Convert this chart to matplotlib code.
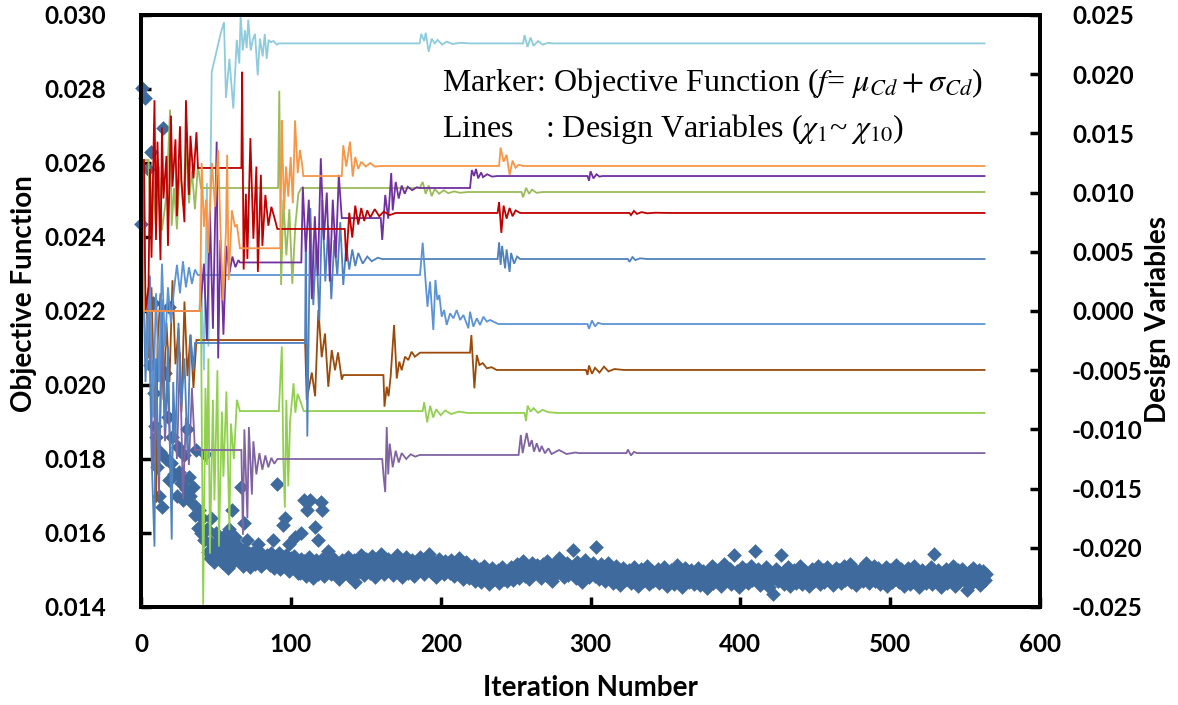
import matplotlib
matplotlib.use("Agg")
import matplotlib.pyplot as plt
import numpy as np

plt.rcParams['mathtext.fontset'] = 'stix'
plt.rcParams['font.family'] = ['Lato', 'DejaVu Sans']

# ---------------- data ----------------
# Objective function (units of 1e-5), scattered early evaluations (iteration, value)
obj_early = [(0,2435),(1,2803),(2.5,2775),(5,2585),(7,2630),(14.7,2695),(8,2222),(19,2210),(6,2054),
             (16,2032),(9,1978),(9.5,1890),(18,1913),(21,1860),(25,1832),(31,1880),(37,1824),(43,1814),
             (11,1779),(25.5,1765),(18.5,1743),(35,1724),(67,1724),(91,1732),(109,1689),(14,1670),
             (12,1700),(26,1750),(30,1720),(39,1662),(38,1613),(47,1640),(54,1522),(61,1662),(61.5,1580),
             (69,1627),(74,1546),(85,1535),(94,1508),(96,1640),(94.5,1622),(103,1589),(105,1492),
             (111,1662),(116,1616),(121,1662),(125,1550),(143,1468),(120,1685),(113,1690),(10,1860),
             (13,1820),(17,1800),(20,1790),(22,1760),(24,1700),(27,1735),(28,1690),(29,1810),(32,1750),
             (33,1700),(34,1680),(36,1650),(40,1600),(41,1640),(42,1580),(44,1610),(46,1575),(48,1560),
             (50,1600),(52,1580),(55,1590),(57,1570),(59,1610),(63,1590),(65,1565),(71,1580),(78,1570),
             (88,1580),(99,1570),(107,1600),(118,1580)]

# Objective function (units of 1e-5) for iterations 45 .. 564
obj_band_start = 45
obj_band = [
 1548,1532,1556,1541,1522,1553,1537,1560,1528,1545,1519,1551,1538,1506,1547,1530,1557,1524,1543,1535,
 1549,1527,1539,1512,1553,1534,1520,1546,1508,1531,1542,1517,1550,1526,1538,1511,1544,1529,1521,1540,
 1533,1514,1547,1525,1506,1538,1519,1545,1502,1529,1536,1510,1541,1523,1498,1532,1515,1539,1507,1527,
 1518,1493,1530,1506,1524,1485,1512,1535,1497,1520,1478,1509,1528,1490,1515,1502,1531,1484,1511,1496,
 1522,1505,1488,1517,1530,1495,1512,1476,1508,1526,1491,1514,1499,1535,1483,1510,1503,1527,1487,1516,
 1525,1498,1540,1511,1486,1529,1504,1518,1493,1537,1509,1482,1521,1514,1496,1544,1507,1490,1523,1512,
 1531,1500,1518,1487,1526,1509,1541,1495,1513,1480,1522,1505,1536,1492,1517,1503,1528,1484,1511,1520,
 1498,1534,1506,1519,1489,1527,1501,1542,1514,1493,1523,1508,1481,1516,1530,1497,1511,1488,1525,1504,
 1519,1491,1528,1506,1483,1515,1499,1532,1487,1510,1476,1502,1521,1494,1479,1508,1489,1514,1471,1497,
 1485,1503,1468,1492,1510,1477,1496,1462,1488,1505,1473,1494,1480,1499,1466,1486,1507,1475,1491,1470,
 1495,1481,1508,1472,1500,1487,1516,1478,1503,1490,1523,1484,1511,1497,1476,1506,1520,1489,1501,1514,
 1492,1509,1479,1517,1503,1486,1525,1498,1511,1470,1504,1519,1488,1507,1532,1494,1513,1482,1500,1518,
 1487,1512,1496,1554,1505,1478,1521,1493,1510,1468,1502,1527,1489,1514,1480,1507,1497,1518,1484,1562,
 1501,1475,1515,1492,1508,1471,1497,1520,1486,1504,1466,1493,1511,1479,1499,1460,1490,1506,1474,1496,
 1483,1501,1465,1488,1509,1472,1494,1456,1485,1503,1469,1491,1477,1512,1462,1487,1498,1470,1492,1480,
 1503,1466,1489,1475,1508,1482,1458,1495,1471,1500,1486,1463,1492,1513,1478,1497,1455,1484,1506,1473,
 1490,1468,1499,1481,1461,1494,1476,1505,1459,1487,1498,1470,1483,1452,1496,1479,1510,1464,1488,1501,
 1474,1493,1457,1485,1515,1469,1491,1480,1503,1462,1487,1540,1476,1497,1455,1489,1508,1471,1482,1499,
 1466,1488,1511,1474,1495,1551,1479,1502,1460,1486,1498,1468,1507,1483,1454,1492,1476,1436,1489,1504,
 1470,1495,1541,1482,1463,1499,1477,1508,1458,1487,1472,1501,1466,1493,1480,1510,1461,1485,1497,1474,
 1490,1456,1483,1503,1469,1494,1478,1512,1462,1488,1500,1467,1485,1508,1473,1496,1481,1459,1491,1505,
 1477,1499,1464,1486,1510,1472,1493,1481,1515,1468,1489,1502,1460,1484,1497,1475,1506,1470,1492,1518,
 1483,1465,1498,1479,1511,1471,1490,1505,1462,1487,1496,1474,1509,1458,1485,1500,1468,1493,1477,1514,
 1488,1467,1502,1480,1457,1495,1473,1506,1462,1490,1484,1512,1469,1497,1453,1482,1501,1475,1491,1466,
 1494,1478,1508,1461,1542,1486,1470,1499,1483,1455,1492,1476,1504,1465,1489,1497,1472,1510,1458,1485,
 1499,1468,1487,1503,1474,1492,1446,1481,1496,1463,1506,1477,1490,1470,1501,1459,1486,1497,1473,1489]

# Design variables (iteration, value in units of 1e-3)
dv_skyblue = [(0,12.75),(2,0.0),(39,0.0),(40,4.0),(42,-5.0),(44,10.8),(45,-3.0),(47.2,20.2),(53.2,23.45),
    (55.4,24.4),(56.7,18.0),(59,21.3),(61.6,17.1),(63.9,22.9),(65.6,20.9),(66.5,25.0),(67.9,22.0),
    (69.4,23.7),(70.5,22.2),(71.6,24.6),(73.2,22.0),(74.6,22.9),(76.1,23.4),(77.9,19.9),(79.4,23.0),
    (81.2,21.5),(82.6,23.4),(83.9,21.3),(85.2,22.9),(86.6,22.7),(88.4,22.8),(90.6,22.5),(92,22.6),
    (186,22.6),(187,23.4),(189,22.8),(190,23.5),(192,21.9),(194,23.0),(196,22.6),(198,22.9),(201,22.5),
    (204,22.75),(208,22.55),(213,22.65),(220,22.6),(255,22.6),(256,23.3),(258,22.3),(260,23.1),
    (262,22.4),(265,22.8),(268,22.5),(272,22.65),(275,22.6),(563,22.6)]
dv_brown = [(0,0.0),(4,0.0),(5,-4.0),(7,2.0),(9,-8.0),(10,-16.2),(11,-3.0),(13,1.5),(15,-7.5),(17,-1.0),
    (19,-6.0),(21,2.6),(23,-4.5),(25,-1.5),(27,-8.5),(29,0.8),(31,-5.5),(33,-2.0),(35,-6.5),(37,-2.45),
    (109.5,-2.45),(110.6,-7.5),(114,-5.2),(116.2,-7.2),(118.4,0.1),(120.6,-3.9),(122.8,-1.9),(125,-6.4),
    (127.3,-3.3),(129.5,-5.0),(131.5,-3.5),(134,-5.8),(135,-5.41),(161.8,-5.41),(162.5,-8.08),(164,-6.4),
    (165.2,-7.2),(166.6,-5.55),(168.9,-1.18),(170.7,-5.7),(172.4,-4.28),(174,-5.0),(176.2,-3.86),
    (178.4,-4.14),(180.6,-3.44),(182.8,-3.86),(186.2,-3.52),(219.6,-3.52),(220.5,-2.03),(222.5,-6.53),
    (224.1,-3.72),(225.9,-4.56),(228.1,-4.4),(230.8,-4.84),(234,-4.75),(237.3,-4.98),(297,-4.98),
    (298,-5.4),(299,-4.6),(301,-5.3),(303,-4.8),(306,-5.2),(309,-4.7),(312,-5.1),(316,-4.9),(322,-4.98),
    (563,-4.98)]
dv_green = [(0,12.75),(2,12.75),(3,0.0),(40,0.0),(41.5,-24.8),(43,-6.5),(44,-13.0),(45,-4.0),(46,-20.5),
    (48,-7.5),(49,-16.0),(51,-5.0),(52,-19.9),(54,-8.5),(55,-14.0),(57,-6.8),(59,-18.5),(60,-9.5),
    (62,-12.5),(64,-7.5),(66,-8.45),(92,-8.45),(94,-3.0),(95,-12.6),(96,-16.6),(97,-7.5),(98.3,-14.8),
    (99.5,-9.3),(101.8,-6.1),(103,-8.6),(104.5,-7.0),(106,-7.5),(108.6,-8.45),(188,-8.45),(189,-7.7),
    (191,-9.4),(193,-8.0),(195,-9.0),(197,-8.3),(200,-8.8),(203,-8.4),(207,-8.7),(212,-8.5),(218,-8.61),
    (256,-8.61),(257,-9.3),(258,-8.0),(260,-8.5),(262,-8.2),(265,-8.6),(268,-8.35),(272,-8.55),
    (278,-8.61),(563,-8.61)]
dv_lilac = [(0,0.0),(5,0.0),(6,-3.0),(8,-13.5),(10,-6.0),(12,-15.5),(14,-2.0),(16,-11.0),(18,-5.5),
    (20,-14.8),(22,-8.0),(24,-12.5),(26,-3.5),(28,-15.9),(30,-9.0),(32,-13.0),(34,-6.5),(36,-11.74),
    (67,-11.74),(68,-18.9),(69,-10.0),(71,-17.5),(72,-9.8),(74,-15.5),(75,-11.0),(77,-13.8),(79,-12.0),
    (81,-13.4),(83,-12.2),(85,-13.2),(87,-12.4),(89,-12.9),(91,-12.5),(161,-12.5),(162,-14.1),
    (163,-15.3),(164,-9.8),(165,-13.8),(166,-11.2),(168,-13.2),(170,-11.8),(172,-12.8),(174,-12.0),
    (177,-12.5),(180,-12.1),(183,-12.3),(186,-12.16),(252,-12.16),(253.5,-10.47),(254.7,-12.0),
    (257.4,-10.3),(259.2,-11.46),(260.8,-10.9),(262.3,-11.88),(264.1,-11.17),(266,-11.9),(267.4,-11.4),
    (269.6,-12.02),(271.9,-11.6),(274,-12.08),(279,-11.74),(284,-12.08),(290,-11.95),(292,-12.0),
    (324,-12.0),(325,-11.7),(327,-12.2),(329,-11.9),(331,-12.0),(563,-12.0)]
dv_blue = [(0,0.0),(2,0.0),(3,-6.0),(5,2.0),(7,-12.0),(9,-19.9),(10,-4.0),(12,-14.0),(14,1.0),(16,-10.0),
    (18,-3.0),(20.5,-19.3),(21.5,-6.0),(23,-11.0),(25,-1.0),(27,-8.0),(29,-4.0),(31,-12.0),(33,-2.0),
    (35,-5.0),(36,-2.7),(109.5,-2.7),(110,6.5),(111,-10.6),(113,8.7),(115,0.5),(117,5.8),(119,-0.8),
    (121,9.4),(123,2.5),(125,7.2),(127,1.0),(129,6.0),(131,3.0),(133,7.5),(135,2.2),(137,5.5),(139,3.5),
    (141,5.2),(143,3.8),(145,4.9),(148,4.0),(151,4.6),(154,4.2),(158,4.5),(161,4.39),(238,4.39),
    (239,5.8),(240,3.9),(241,5.5),(243,3.6),(244,5.2),(246,3.3),(247,4.9),(249,4.0),(251,4.6),
    (253,4.39),(325,4.39),(326,4.15),(328,4.55),(330,4.3),(333,4.45),(338,4.39),(563,4.39)]
dv_blue2 = [(0,12.75),(1,12.75),(2,0.0),(4,-5.0),(6,3.0),(8,-9.0),(10,1.5),(12,-6.0),(14,4.0),(16,-3.0),
    (18,2.0),(20,-1.0),(22,1.8),(24,3.9),(26,1.5),(28,4.2),(30,2.0),(32,3.7),(34,2.3),(36,3.5),
    (38,3.04),(186.2,3.04),(188,5.77),(191.2,0.36),(192.9,2.48),(195.1,-1.6),(196.5,2.62),(197.8,0.93),
    (199.1,1.35),(200.7,-0.48),(202.3,0.08),(204,-1.18),(206.3,-0.2),(208.5,-0.62),(210.7,0.08),
    (213,-0.76),(215.2,-0.34),(218.5,-1.46),(219.6,-0.06),(221.8,-1.32),(224.1,-0.62),(226.3,-1.18),
    (228.5,-0.48),(230.8,-0.9),(233,-0.76),(238.5,-1.1),(298,-1.1),(299,-1.5),(301,-0.8),(303,-1.3),
    (305,-1.0),(308,-1.1),(563,-1.1)]
dv_olive = [(0,12.75),(5,12.75),(6,8.0),(8,11.0),(10,7.0),(12,12.2),(14,6.8),(17,9.8),(19.4,17.0),
    (20.5,7.2),(22,10.4),(24,6.9),(26,12.5),(28,8.9),(30,14.0),(32,9.1),(34,11.8),(36,8.6),(38,12.3),
    (40,10.39),(91.5,10.39),(92.3,18.6),(93.5,2.2),(95,9.4),(97,4.7),(99,8.6),(101,2.3),(103,7.2),
    (105,9.9),(107,10.39),(186,10.39),(188,10.9),(190,9.9),(192,10.6),(194,9.7),(196,10.3),(199,9.9),
    (202,10.2),(205,9.95),(209,10.1),(213,9.98),(218,10.05),(254,10.05),(255,9.6),(257,10.4),
    (259,9.9),(261,10.25),(264,9.98),(268,10.05),(563,10.05)]
dv_purple = [(0,0.0),(39.5,0.0),(42,4.0),(44,-2.5),(46,8.5),(48,-1.5),(50.5,14.3),(51.5,-4.0),(53,6.0),
    (55,-2.0),(57,5.5),(59,3.2),(61,4.6),(63,3.7),(65,4.3),(66,4.1),(107,4.1),(108,10.5),(110,5.0),
    (112,9.4),(114,1.0),(116,8.0),(118,3.0),(120,12.9),(122,6.0),(124,10.0),(126,2.5),(128,9.4),
    (130,4.5),(132,11.5),(134,7.85),(160,7.85),(161,6.0),(163,9.8),(165,7.8),(167,11.66),(168,8.5),
    (170,10.9),(172,9.5),(174,10.6),(176,9.9),(178,10.5),(181,10.2),(184,10.45),(186,10.39),
    (219.6,10.39),(220.8,11.9),(222.3,11.4),(223.6,12.0),(225,11.2),(227,11.7),(228.3,11.3),
    (231,11.55),(234.3,11.35),(237.6,11.4),(298,11.4),(299,11.0),(300,11.8),(302,11.2),(304,11.55),
    (306,11.35),(308,11.4),(563,11.4)]
dv_red = [(0,12.75),(2,12.75),(3,0.0),(5,2.0),(6,12.0),(7,4.5),(9,17.8),(10,6.0),(11,14.3),(13,4.3),
    (14,15.5),(15,9.5),(17,13.1),(18,5.5),(20,16.5),(21,10.5),(23,14.5),(24,8.0),(26,15.6),(27,11.0),
    (29,7.5),(30,17.8),(32,9.8),(33,14.8),(35,11.2),(37,15.1),(38,12.08),(67,12.08),(67.5,20.2),
    (68.5,3.5),(70,9.9),(71,4.4),(73,14.6),(75,6.1),(77,12.2),(78,3.3),(80,11.5),(81,5.5),(83,9.8),
    (85,7.2),(87,8.8),(89,7.9),(91,6.93),(136,6.93),(137,4.2),(139,8.3),(141,6.2),(143,8.9),(145,7.3),
    (147,8.7),(149,7.6),(151,8.5),(153,7.9),(156,8.6),(159,8.0),(162,8.4),(166,8.1),(170,8.28),
    (238,8.28),(239,9.2),(240.5,6.6),(242,8.9),(244,7.8),(246,8.7),(248,8.0),(250,8.5),(253,8.28),
    (326,8.28),(327,8.1),(329,8.45),(331,8.2),(334,8.35),(338,8.25),(343,8.3),(353,8.28),(563,8.28)]
dv_orange = [(0,12.75),(2,0.0),(39.5,0.0),(40.5,12.5),(42,7.1),(43.4,9.4),(44.7,4.9),(47.4,12.5),
    (49.4,8.8),(51.4,13.6),(53.4,5.4),(54.7,0.9),(56.7,6.8),(57.5,13.2),(58.5,2.6),(60.7,8.5),
    (62.7,7.1),(64,7.3),(66,5.3),(93,5.3),(93.9,16.1),(94.5,13.3),(95.5,8.5),(96.8,12.2),(98.3,9.65),
    (99.9,13.0),(101.3,9.1),(102.8,16.1),(104.6,11.65),(106.1,13.6),(107.7,12.2),(108.3,11.4),
    (134,11.4),(135,14.0),(137,12.2),(139.5,14.3),(141.3,11.35),(143,13.0),(145,12.0),(147,12.6),
    (150,12.2),(153,12.5),(156,12.2),(160,12.25),(239,12.25),(240,13.8),(242,12.6),(244,13.2),
    (246,11.5),(248,12.7),(250,12.1),(252,12.35),(255,12.25),(563,12.25)]

design_vars = [
    (dv_skyblue, '#8DCBDD'), (dv_brown, '#9C4A0A'), (dv_green, '#92D050'),
    (dv_lilac, '#8064A2'), (dv_blue, '#4F81BD'), (dv_blue2, '#5B93D6'),
    (dv_olive, '#9BBB59'), (dv_purple, '#7030A0'), (dv_red, '#C00000'),
    (dv_orange, '#F79646')]

x_ticks = [0, 100, 200, 300, 400, 500, 600]
y_left_ticks = [0.014, 0.016, 0.018, 0.020, 0.022, 0.024, 0.026, 0.028, 0.030]
y_right_ticks = [-0.025, -0.020, -0.015, -0.010, -0.005, 0.000, 0.005, 0.010, 0.015, 0.020, 0.025]

# ---------------- plot ----------------
W, H = 1178, 705
fig = plt.figure(figsize=(W / 100, H / 100), dpi=100)
ax = fig.add_axes([141 / W, 1 - 607 / H, (1040 - 141) / W, (607 - 15) / H])
ax2 = ax.twinx()

ax.set_xlim(0, 600)
ax.set_ylim(0.014, 0.030)
ax2.set_ylim(-0.025, 0.025)

# scatter of objective function
ex = [p[0] for p in obj_early]
ey = [p[1] * 1e-5 for p in obj_early]
bx = np.arange(obj_band_start, obj_band_start + len(obj_band))
by = np.array(obj_band) * 1e-5
mcol = '#3F6A9E'
ax.scatter(bx, by, marker='D', s=56, color=mcol, linewidths=0, zorder=3, clip_on=False)
ax.scatter(ex, ey, marker='D', s=56, color=mcol, linewidths=0, zorder=3, clip_on=False)

for data, col in design_vars:
    xs = [p[0] for p in data]
    ys = [p[1] * 1e-3 for p in data]
    ax2.plot(xs, ys, color=col, lw=1.3, solid_joinstyle='miter')

tick_font = dict(family='Lato', weight='bold', size=17.5)
ax.set_xticks(x_ticks)
ax.set_xticklabels([str(t) for t in x_ticks], **tick_font)
ax.set_yticks(y_left_ticks)
ax.set_yticklabels(['%.3f' % t for t in y_left_ticks], **tick_font)
ax2.set_yticks(y_right_ticks)
ax2.set_yticklabels(['%.3f' % t for t in y_right_ticks], **tick_font)

ax.tick_params(axis='both', direction='in', length=7, width=2.5)
ax.tick_params(axis='y', pad=25)
ax.tick_params(axis='x', pad=19)
ax2.tick_params(axis='y', direction='in', length=7, width=2.5, pad=23)

for a in (ax, ax2):
    for sp in a.spines.values():
        sp.set_linewidth(2.8)
        sp.set_color('black')

ax.set_xlabel('Iteration Number', fontsize=20, fontweight='bold', family='Lato')
ax.xaxis.label.set_va('center')
ax.xaxis.set_label_coords(0.5, -0.137)
ax.set_ylabel('Objective Function', fontsize=20, fontweight='bold', family='Lato')
ax.yaxis.label.set_va('center')
ax.yaxis.set_label_coords(-0.130, 0.53)
ax2.set_ylabel('Design Variables', fontsize=20, fontweight='bold', family='Lato', rotation=90)
ax2.yaxis.label.set_va('center')
ax2.yaxis.set_label_coords(1.131, 0.485)

serif = ['Liberation Serif', 'DejaVu Serif']
fig.text(442 / W, 1 - 91 / H,
         r'Marker: Objective Function ($f$= $\mu_{Cd}+\sigma_{Cd}$)',
         fontsize=23, family=serif, va='baseline', ha='left')
fig.text(442 / W, 1 - 137 / H,
         r'Lines    : Design Variables ($\chi_{\mathit{1}}$~ $\chi_{\mathit{10}}$)',
         fontsize=23, family=serif, va='baseline', ha='left')

fig.savefig('out.png', dpi=100)
